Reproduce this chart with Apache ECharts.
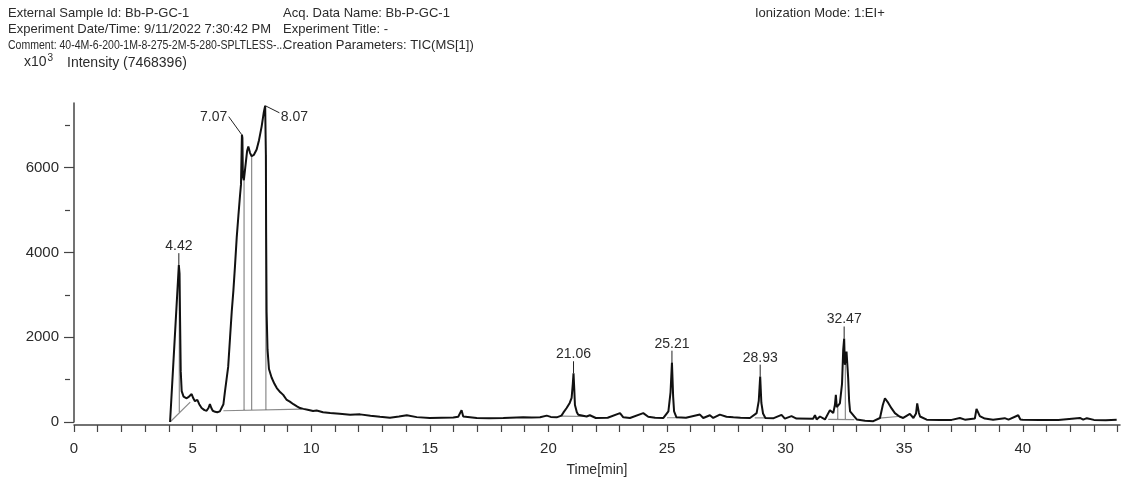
<!DOCTYPE html>
<html>
<head>
<meta charset="utf-8">
<script src="https://cdn.jsdelivr.net/npm/echarts@6/dist/echarts.min.js"></script>
<style>
  html, body { margin: 0; padding: 0; background: #fff; }
  #chart { width: 1123px; height: 482px; }
</style>
</head>
<body>
<div id="chart"></div>
<script>
// TIC trace (time in min, intensity in x10^3)
const times = [
  4.05, 4.38, 4.42, 4.45, 4.47, 4.50, 4.54, 4.62, 4.75, 4.85, 4.96, 5.03, 5.10, 5.20, 5.28, 5.38, 5.50, 5.59, 5.67, 5.73,
  5.79, 5.85, 5.95, 6.04, 6.15, 6.22, 6.30, 6.36, 6.43, 6.50, 6.58, 6.65, 6.72, 6.79, 6.86, 6.93, 7.00, 7.04, 7.08, 7.10,
  7.12, 7.16, 7.22, 7.30, 7.35, 7.42, 7.49, 7.58, 7.70, 7.80, 7.91, 8.00, 8.06, 8.09, 8.10, 8.12, 8.16, 8.22, 8.33, 8.45,
  8.55, 8.70, 8.82, 8.97, 9.10, 9.25, 9.40, 9.53, 9.67, 9.85, 10.08, 10.23, 10.50, 10.80, 11.20, 11.64, 12.06, 12.50, 12.90, 13.32,
  13.70, 14.03, 14.45, 15.00, 15.50, 15.99, 16.20, 16.34, 16.41, 16.98, 17.50, 18.10, 18.94, 19.30, 19.65, 19.93, 20.10, 20.35, 20.55, 20.63,
  20.77, 20.90, 20.98, 21.03, 21.06, 21.09, 21.12, 21.20, 21.26, 21.61, 21.75, 22.00, 22.50, 23.02, 23.16, 23.44, 24.00, 24.21, 24.50, 24.85,
  25.06, 25.15, 25.21, 25.26, 25.30, 25.40, 25.80, 26.39, 26.53, 26.81, 26.95, 27.23, 27.51, 27.80, 28.10, 28.50, 28.78, 28.87, 28.93, 28.98,
  29.05, 29.15, 29.50, 29.83, 29.97, 30.25, 30.46, 31.16, 31.24, 31.31, 31.45, 31.66, 31.87, 32.01, 32.08, 32.12, 32.16, 32.29, 32.38, 32.43,
  32.47, 32.50, 32.54, 32.57, 32.64, 32.68, 32.72, 33.00, 33.35, 33.70, 33.98, 34.10, 34.19, 34.33, 34.47, 34.61, 34.80, 34.96, 35.24, 35.39,
  35.50, 35.55, 35.62, 35.67, 35.95, 36.50, 37.00, 37.35, 37.56, 37.98, 38.05, 38.19, 38.40, 38.75, 39.24, 39.40, 39.81, 39.90, 40.00, 40.70,
  41.50, 42.41, 42.55, 42.70, 43.00, 43.50, 43.96
];
const intensity = [
  0, 3300, 3700, 3500, 2500, 1200, 730, 600, 560, 600, 660, 560, 490, 520, 420, 330, 280, 265, 330, 420,
  330, 265, 240, 230, 250, 290, 420, 700, 1000, 1300, 2000, 2600, 3100, 3700, 4350, 4860, 5350, 5600, 6780, 6700,
  5800, 5700, 6000, 6400, 6500, 6350, 6270, 6300, 6430, 6650, 6970, 7300, 7460, 6300, 4500, 2600, 1700, 1250, 1050, 900,
  800, 700, 640, 520, 480, 420, 370, 330, 310, 290, 260, 270, 230, 210, 195, 172, 180, 150, 125, 100,
  130, 157, 115, 95, 100, 105, 125, 280, 130, 95, 90, 95, 110, 105, 110, 150, 120, 110, 150, 220,
  330, 450, 570, 900, 1150, 800, 400, 230, 170, 130, 160, 95, 100, 210, 110, 95, 210, 125, 100, 95,
  250, 700, 1400, 600, 250, 110, 100, 175, 95, 160, 95, 175, 125, 110, 100, 95, 210, 500, 1070, 450,
  200, 95, 90, 170, 80, 140, 80, 75, 160, 60, 130, 60, 280, 210, 400, 640, 350, 440, 900, 1700,
  1970, 1350, 1500, 1660, 1030, 500, 250, 60, 30, 20, 95, 400, 560, 450, 320, 210, 130, 95, 190, 95,
  200, 440, 220, 130, 55, 50, 50, 95, 55, 80, 310, 140, 80, 55, 90, 55, 160, 60, 55, 50,
  50, 95, 55, 90, 50, 40, 55
];

// integration baselines / drop lines: [t0, i0, t1, i1]
const baselines = [
  [4.05, 0, 4.90, 470],
  [4.44, 3550, 4.44, 230],
  [6.30, 265, 9.60, 305],
  [7.17, 5700, 7.17, 275],
  [7.49, 6270, 7.49, 280],
  [8.09, 6300, 8.09, 285],
  [20.55, 140, 21.60, 130],
  [25.00, 100, 25.45, 100],
  [28.70, 95, 29.20, 95],
  [31.80, 60, 32.90, 55],
  [32.20, 350, 32.20, 60],
  [32.52, 1400, 32.52, 58],
  [33.95, 90, 34.75, 130]
];

// labelled peaks
const peakTimes = [4.42, 7.07, 8.07, 21.06, 25.21, 28.93, 32.47];
const peakHeights = [3700, 6780, 7460, 1150, 1400, 1070, 1970];

const xLabelTicks = [0, 5, 10, 15, 20, 25, 30, 35, 40];
const xMinorTicks = [];
for (let i = 0; i <= 44; i++) xMinorTicks.push(i);
const yLabelTicks = [0, 2000, 4000, 6000];
const yMinorTicks = [1000, 3000, 5000, 7000];

const FONT = '"Liberation Sans", Arial, sans-serif';
const TXT = '#2b2b2b';

const trace = times.map((t, i) => [t, intensity[i]]);
const baseData = [];
baselines.forEach(s => {
  baseData.push([s[0], s[1]], [s[2], s[3]], [null, null]);
});
const peakData = peakTimes.map((t, i) => [t, peakHeights[i]]);

const chart = echarts.init(document.getElementById('chart'), null, { renderer: 'canvas' });

function headerText(x, y, text, sx) {
  return {
    type: 'text', x: x, y: y, scaleX: sx || 1,
    style: { text: text, fill: TXT, font: '13px ' + FONT }
  };
}

const option = {
  animation: false,
  backgroundColor: '#fff',
  grid: { left: 74, right: 3, top: 103, bottom: 58, containLabel: false },
  graphic: [
    headerText(8, 7, 'External Sample Id: Bb-P-GC-1'),
    headerText(283, 7, 'Acq. Data Name: Bb-P-GC-1'),
    headerText(755, 7, 'Ionization Mode: 1:EI+'),
    headerText(8, 23, 'Experiment Date/Time: 9/11/2022 7:30:42 PM'),
    headerText(283, 23, 'Experiment Title: -'),
    headerText(8, 39, 'Comment: 40-4M-6-200-1M-8-275-2M-5-280-SPLTLESS-...', 0.81),
    headerText(283, 39, 'Creation Parameters: TIC(MS[1])'),
    {
      type: 'text', x: 24, y: 53,
      style: {
        text: 'x10{sup|3}',
        fill: TXT,
        font: '14px ' + FONT,
        rich: { sup: { fontSize: 10, fontFamily: FONT, verticalAlign: 'top', padding: [0, 0, 8, 1] } }
      }
    },
    {
      type: 'text', x: 67, y: 56,
      style: { text: 'Intensity (7468396)', fill: TXT, font: '14px ' + FONT }
    }
  ],
  xAxis: {
    type: 'value',
    min: 0,
    max: 44.1,
    offset: 3,
    name: 'Time[min]',
    nameLocation: 'middle',
    nameGap: 38,
    nameTextStyle: { color: TXT, fontSize: 14, fontFamily: FONT },
    axisLine: { onZero: false, lineStyle: { color: '#444', width: 1.5 } },
    axisTick: { customValues: xMinorTicks, length: 7, lineStyle: { color: '#444', width: 1.2 } },
    axisLabel: { customValues: xLabelTicks, margin: 16, color: TXT, fontSize: 15, fontFamily: FONT },
    splitLine: { show: false }
  },
  yAxis: [
    {
      type: 'value',
      min: 0,
      max: 7526,
      offset: 4,
      axisLine: { show: true, lineStyle: { color: '#444', width: 1.5 } },
      axisTick: { show: true, customValues: yLabelTicks, length: 10, lineStyle: { color: '#444', width: 1.2 } },
      axisLabel: {
        customValues: yLabelTicks, margin: 11, color: TXT, fontSize: 15, fontFamily: FONT,
        formatter: v => String(v)
      },
      splitLine: { show: false }
    },
    {
      type: 'value',
      position: 'left',
      min: 0,
      max: 7526,
      offset: 4,
      axisLine: { show: false },
      axisTick: { show: true, customValues: yMinorTicks, length: 5, lineStyle: { color: '#444', width: 1.2 } },
      axisLabel: { show: false },
      splitLine: { show: false }
    }
  ],
  series: [
    {
      type: 'line',
      data: baseData,
      showSymbol: false,
      connectNulls: false,
      silent: true,
      z: 1,
      lineStyle: { color: '#8a8a8a', width: 1.2 }
    },
    {
      type: 'line',
      data: trace,
      showSymbol: false,
      silent: true,
      z: 2,
      lineStyle: { color: '#111', width: 2 }
    },
    {
      type: 'custom',
      data: peakData,
      clip: false,
      z: 3,
      renderItem: function (params, api) {
        const t = api.value(0);
        const p = api.coord([t, api.value(1)]);
        const label = t.toFixed(2);
        let tx = p[0], ty = p[1] - 19, line = [p[0], p[1] - 12, p[0], p[1]];
        if (label === '7.07') {
          tx = p[0] - 28; ty = p[1] - 17;
          line = [p[0] - 13, p[1] - 18, p[0], p[1]];
        } else if (label === '8.07') {
          tx = p[0] + 29; ty = p[1] + 11;
          line = [p[0], p[1], p[0] + 14, p[1] + 7];
        }
        return {
          type: 'group',
          children: [
            {
              type: 'line',
              shape: { x1: line[0], y1: line[1], x2: line[2], y2: line[3] },
              style: { stroke: '#222', lineWidth: 1 }
            },
            {
              type: 'text',
              x: tx, y: ty,
              style: {
                text: label, fill: TXT, font: '14px ' + FONT,
                align: 'center', verticalAlign: 'middle'
              }
            }
          ]
        };
      }
    }
  ]
};

chart.setOption(option);
</script>
</body>
</html>
